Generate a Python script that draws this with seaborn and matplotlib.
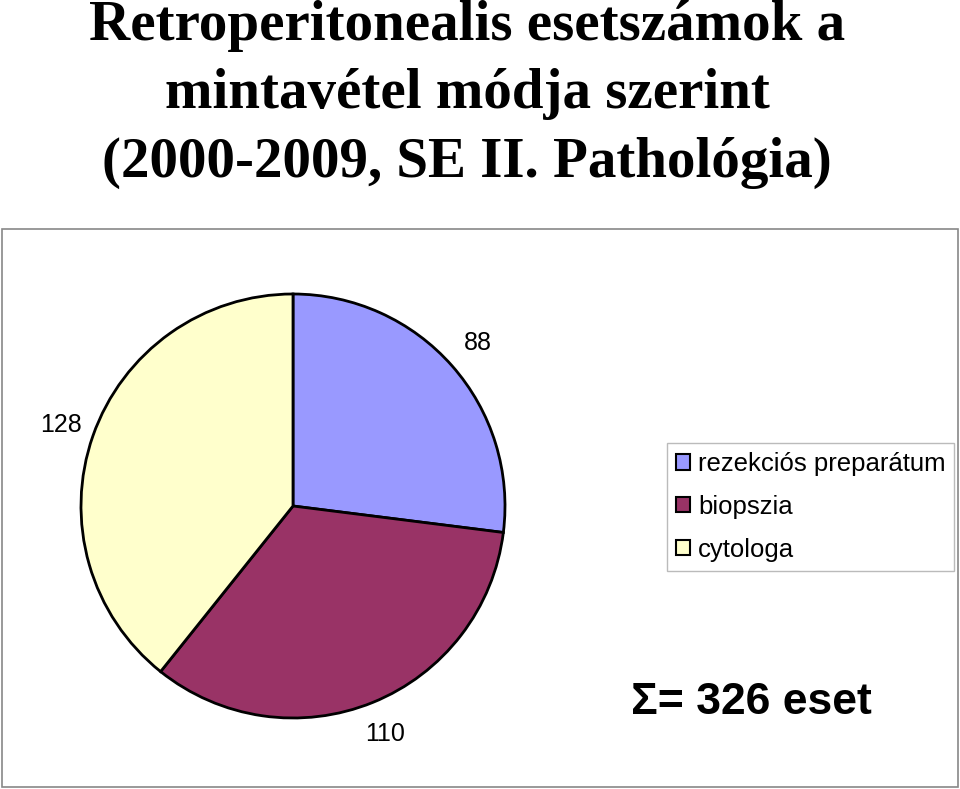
import matplotlib
matplotlib.use("Agg")
import matplotlib.pyplot as plt
import seaborn as sns
from matplotlib.patches import Rectangle, Patch

sns.set_theme(style="white")
plt.rcParams['font.family'] = ['Liberation Sans', 'DejaVu Sans']
plt.rcParams['text.color'] = 'black'

categories = ["rezekciós preparátum", "biopszia", "cytologa"]
values = [88, 110, 128]
colors = ["#9999FF", "#993366", "#FFFFCC"]
title_lines = ["Retroperitonealis esetszámok a",
               "mintavétel módja szerint",
               "(2000-2009, SE II. Pathológia)"]
total_text = "Σ= {} eset".format(sum(values))

W, H = 960, 789
fig = plt.figure(figsize=(W / 100, H / 100), dpi=100)
fig.patch.set_facecolor("white")

# outer chart frame
fig.add_artist(Rectangle((2 / W, 1 - 787 / H), 956 / W, 558 / H, transform=fig.transFigure,
                         fill=False, edgecolor="#888888", linewidth=1.2))

# title, one line at a time (baselines)
for line, base in zip(title_lines, [40, 108, 177]):
    fig.text(467 / W, 1 - base / H, line, ha="center", va="baseline",
             family=["Liberation Serif", "DejaVu Serif"], fontweight="bold",
             fontsize=41, color="black")

# pie axes
cx, cy, r = 293, 506, 212
ax = fig.add_axes([(cx - r) / W, 1 - (cy + r) / H, 2 * r / W, 2 * r / H])
wedges, texts = ax.pie(values, labels=[str(v) for v in values], colors=colors,
                       startangle=90, counterclock=False, labeldistance=1.16,
                       wedgeprops=dict(edgecolor="black", linewidth=2),
                       textprops=dict(fontsize=18, color="black"))
for t in texts:
    t.set_ha("center")
    t.set_va("center")
ax.set_xlim(-1, 1)
ax.set_ylim(-1, 1)
ax.set_aspect("equal")
ax.axis("off")

# legend
handles = [Patch(facecolor=c, edgecolor="black", linewidth=1.5) for c in colors]
leg = fig.legend(handles, categories, loc="upper left",
                 bbox_to_anchor=(667 / W, 1 - 443 / H), fontsize=18.5,
                 frameon=True, fancybox=False, edgecolor="#aaaaaa",
                 handlelength=0.55, handleheight=0.55, handletextpad=0.3,
                 labelspacing=0.73, borderpad=0.35, borderaxespad=0,
                 labelcolor="black")
leg.get_frame().set_linewidth(1)

# total
fig.text(751 / W, 1 - 703 / H, total_text, ha="center", va="center",
         fontsize=32, fontweight="bold", color="black")

fig.savefig("out.png", dpi=100)
